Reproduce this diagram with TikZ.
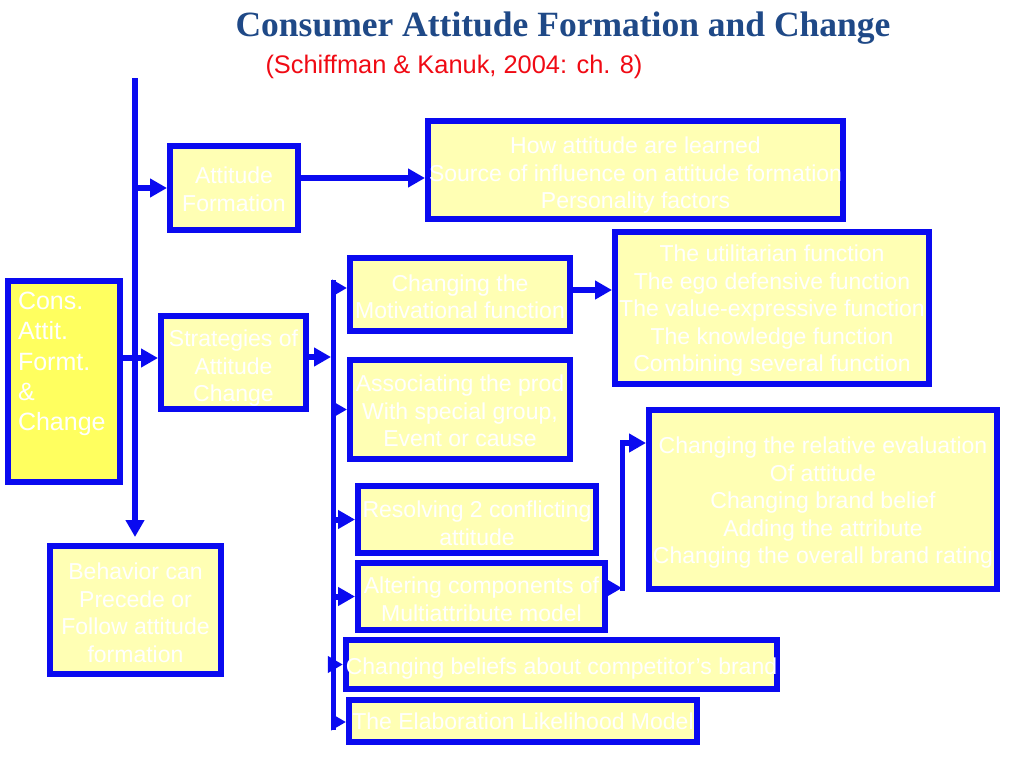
\documentclass[tikz,border=0pt]{standalone}
\usepackage{fontspec}
\setmainfont{Liberation Sans}
\newfontfamily\titlefont{Liberation Serif}
\usetikzlibrary{arrows.meta}
\definecolor{bblue}{RGB}{10,10,240}
\definecolor{pale}{RGB}{255,255,180}
\definecolor{consy}{RGB}{255,255,95}
\definecolor{titleblue}{RGB}{31,73,135}
\definecolor{subred}{RGB}{240,10,20}
\newcommand\liftline[1]{\rule{0pt}{#1}}
\begin{document}
\begin{tikzpicture}[x=1pt,y=-1pt,
  box/.style={draw=bblue, line width=6pt, fill=pale, text=white, align=center,
    inner sep=0pt, font=\fontsize{23}{27.5}\selectfont},
  consbox/.style={draw=bblue, line width=6pt, fill=consy, text=white,
    inner xsep=10pt, inner ysep=0pt, font=\fontsize{25}{30.3}\selectfont},
  conn/.style={draw=bblue, line width=6pt, -{Triangle[length=17pt,width=18pt]}},
  sconn/.style={draw=bblue, line width=5pt, -{Triangle[length=15pt,width=16pt]}},
  plain/.style={draw=bblue, line width=5pt, line cap=rect},
]
\useasboundingbox (0,0) rectangle (1024,768);
\fill[white] (0,0) rectangle (1024,768);

% titles
\node[font=\titlefont\bfseries\fontsize{35.5}{40}\selectfont, text=titleblue, anchor=base] (title) at (563,37) {Consumer Attitude Formation and Change};
\node[font=\fontsize{25.4}{30}\selectfont, text=subred, anchor=base] (sub) at (454,73) {(Schiffman \& Kanuk, 2004: ch. 8)};

% boxes
\node[consbox, minimum width=112pt, minimum height=201pt] (cons) at (64,381.5)
  {\parbox[c][201pt][t]{92pt}{\raggedright\rule{0pt}{28.5pt}Cons.\\Attit.\\Formt.\\\&\\Change}};
\node[box, minimum width=128pt, minimum height=84pt] (af) at (234,188) {\liftline{19pt}Attitude\\Formation};
\node[box, minimum width=415pt, minimum height=98pt] (how) at (635.5,170) {\liftline{27pt}How attitude are learned\\Source of influence on attitude formation\\Personality factors};
\node[box, minimum width=145pt, minimum height=93pt] (strat) at (233.5,362.5) {\liftline{28pt}Strategies of\\Attitude\\Change};
\node[box, minimum width=171pt, minimum height=128pt] (beh) at (135.5,610) {\liftline{22pt}Behavior can\\Precede or\\Follow attitude\\formation};
\node[box, minimum width=220pt, minimum height=73pt] (mot) at (460,294.5) {\liftline{21pt}Changing the\\Motivational function};
\node[box, minimum width=220pt, minimum height=99pt] (assoc) at (460,409.5) {\liftline{20pt}Associating the prod\\With special group,\\Event or cause};
\node[box, minimum width=238pt, minimum height=67pt] (res) at (477,519.5) {\liftline{24pt}Resolving 2 conflicting\\attitude};
\node[box, minimum width=247pt, minimum height=67pt] (alt) at (481.5,596.5) {\liftline{22pt}Altering components of\\Multiattribute model};
\node[box, minimum width=425pt, minimum height=49pt] (bel) at (561.5,664.5) {\liftline{24pt}Changing beliefs about competitor's brand};
\node[box, minimum width=348pt, minimum height=42pt] (elab) at (523,721) {The Elaboration Likelihood Model};
\node[box, minimum width=314pt, minimum height=152pt] (fun) at (772,308) {\liftline{22pt}The utilitarian function\\The ego defensive function\\The value-expressive function\\The knowledge function\\Combining several function};
\node[box, minimum width=348pt, minimum height=179pt] (eval) at (823,499.5) {\liftline{23pt}Changing the relative evaluation\\Of attitude\\Changing brand belief\\Adding the attribute\\Changing the overall brand rating};

% coordinates
\coordinate (top) at (135,78);
\coordinate (brtop) at (333,282);
\coordinate (brbot) at (333,727);
\coordinate (brin) at (331,357);
\coordinate (vtop) at (622,443);
\coordinate (vbot) at (622,588);

% connectors
\draw[conn] (top) -- (top |- 0,537);
\draw[conn] (top |- af.west) -- (af.west);
\draw[conn] (af.east |- 0,178) -- (how.west |- 0,178);
\draw[conn] (cons.east |- 0,358) -- (strat.west |- 0,358);
\draw[conn] (strat.east |- brin) -- (brin);
\draw[plain] (brtop) -- (brbot);
\draw[sconn] (brtop |- 0,288) -- (mot.west |- 0,288);
\draw[sconn] (brtop |- assoc.west) -- (assoc.west);
\draw[conn] (brtop |- res.west) -- (res.west);
\draw[conn] (brtop |- alt.west) -- (alt.west);
\draw[sconn] (brtop |- bel.west) -- (bel.west);
\draw[sconn] (brtop |- 0,722) -- (elab.west |- 0,722);
\draw[conn] (mot.east |- 0,290) -- (fun.west |- 0,290);
\draw[sconn] (alt.east |- vbot) -- (vbot);
\draw[plain] (vbot) -- (vtop);
\draw[conn] ([xshift=-2pt]vtop) -- (eval.west |- vtop);
\end{tikzpicture}
\end{document}
